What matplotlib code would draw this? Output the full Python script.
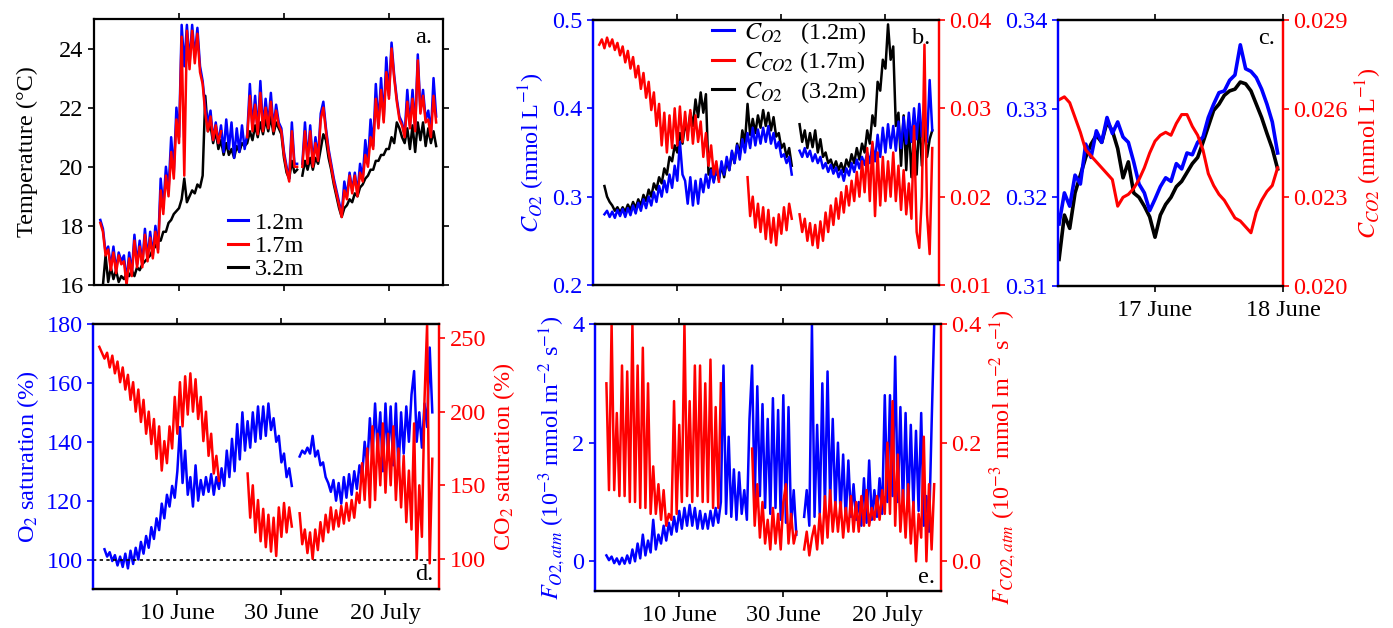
import numpy as np
import matplotlib
matplotlib.use('Agg')
import matplotlib.pyplot as plt
from matplotlib.ticker import FixedLocator, FormatStrFormatter

nan = np.nan

# long records: days since 1 June, one value every 12 h starting 26 May (day -6)
t_start, t_step = -6.0, 0.5

# rows of 10 values = 5 days; row comment gives first day of the row
temp_12 = [18.2, 17.9, 17.1, 17.3, 16.6, 17.3, 16.5, 17.1, 16.8, 17.0,   # -6
           16.1, 17.1, 16.4, 17.7, 16.7, 17.5, 16.7, 17.9, 16.9, 17.8,   # -1
           17.0, 18.0, 17.2, 19.6, 18.6, 20.0, 19.2, 21.0, 19.8, 22.0,   # 4
           21.0, 24.8, 23.4, 24.8, 23.5, 24.8, 23.7, 24.7, 23.4, 22.9,   # 9
           22.0, 21.5, 21.9, 20.9, 21.5, 20.8, 21.4, 20.5, 21.6, 20.6,   # 14
           21.5, 20.3, 21.3, 20.5, 21.4, 20.6, 21.1, 22.8, 21.3, 22.4,   # 19
           21.2, 22.9, 21.3, 22.3, 21.4, 22.5, 21.3, 22.1, 21.5, 21.3,   # 24
           20.5, 20.0, 19.6, 21.5, 20.1, 20.1, nan, 20.1, 21.5, 20.2,    # 29
           21.4, 20.1, 21.0, 20.3, 21.8, 22.2, 21.3, 20.6, 20.1, 19.6,   # 34
           19.2, 18.8, 18.4, 19.5, 19.0, 19.8, 19.2, 19.8, 19.1, 20.1,   # 39
           19.6, 20.9, 20.1, 21.6, 20.7, 22.8, 21.4, 23.0, 21.6, 23.7,   # 44
           22.4, 24.2, 23.1, 22.3, 21.7, 21.5, 21.1, 22.6, 21.4, 22.6,   # 49
           21.3, 23.8, 21.9, 22.6, 21.6, 21.9, 21.1, 23.0, 21.7]         # 54
temp_17 = [18.1, 17.8, 17.0, 17.2, 16.5, 17.1, 16.4, 17.0, 16.7, 16.8,
           16.0, 16.9, 16.3, 17.5, 16.6, 17.3, 16.6, 17.7, 16.8, 17.6,
           16.9, 17.8, 17.1, 19.2, 18.4, 19.7, 19.0, 20.5, 19.6, 21.6,
           20.8, 24.4, 19.7, 24.6, 23.3, 24.6, 23.5, 24.5, 23.2, 22.8,
           21.8, 21.2, 21.7, 20.9, 21.4, 20.8, 21.2, nan, nan, nan,
           nan, nan, nan, nan, nan, nan, 21.0, 22.4, 21.2, 22.1,
           21.1, 22.5, 21.2, 22.0, 21.3, 22.2, 21.2, 21.9, 21.4, 21.2,
           20.4, 19.9, 19.5, 21.2, 20.0, 20.0, nan, 20.0, 21.2, 20.1,
           21.2, 20.0, 20.8, 20.2, 21.6, 22.0, 21.2, 20.5, 20.0, 19.5,
           19.1, 18.7, 18.3, 19.2, 18.9, 19.7, 19.1, 19.7, 19.0, 19.8,
           19.5, 20.4, 20.0, 21.0, 20.6, 22.3, 21.3, 22.6, 21.5, 23.2,
           22.3, 24.0, 23.0, 22.2, 21.6, 21.4, 21.0, 22.2, 21.3, 22.3,
           21.2, 23.6, 21.8, 22.4, 21.5, 21.6, 21.0, 22.4, 21.5]
temp_32 = [nan, 16.0, 17.0, 16.1, 16.6, 16.2, 16.5, 16.1, 16.3, 16.2,
           16.4, 16.3, 16.5, 16.3, 16.6, 16.5, 16.7, 16.8, 16.9, 17.0,
           17.2, 17.3, 17.5, 17.5, 17.8, 17.8, 18.1, 18.2, 18.4, 18.5,
           18.6, 18.9, 19.6, 18.8, 19.0, 19.2, 19.1, 19.4, 19.3, 19.7,
           22.4, 21.2, 21.4, 20.8, 21.2, 20.6, 20.9, 20.4, 20.8, 20.4,
           20.6, 20.3, 20.7, 20.5, 20.8, 20.7, 20.8, 21.2, 20.9, 21.4,
           21.0, 21.5, 21.1, 21.6, 21.2, 21.7, 21.1, 21.5, 21.3, 21.1,
           20.3, 19.8, 19.6, 20.2, 19.8, 19.9, nan, 19.7, 20.2, 19.9,
           20.3, 19.9, 20.3, 20.1, 20.6, 21.1, 20.9, 20.3, 19.9, 19.4,
           19.0, 18.6, 18.3, 18.6, 18.7, 18.9, 18.8, 19.1, 19.0, 19.3,
           19.4, 19.6, 19.7, 19.9, 19.9, 20.2, 20.2, 20.4, 20.4, 20.6,
           20.6, 21.0, 20.8, 21.5, 21.3, 21.0, 20.8, 21.3, 20.6, 21.4,
           20.5, 21.5, 20.9, 21.5, 20.7, 21.3, 20.8, 21.2, 20.7]

# O2 concentration (mmol/L) at 1.2 m and 3.2 m, CO2 concentration at 1.7 m
o2_12 = [nan, nan, 0.280, 0.284, 0.277, 0.283, 0.276, 0.285, 0.278, 0.286,
         0.277, 0.287, 0.279, 0.290, 0.281, 0.293, 0.284, 0.297, 0.287, 0.300,
         0.290, 0.305, 0.294, 0.312, 0.300, 0.318, 0.305, 0.325, 0.310, 0.335,
         0.318, 0.362, 0.325, 0.318, 0.292, 0.322, 0.290, 0.318, 0.292, 0.320,
         0.305, 0.325, 0.310, 0.330, 0.316, 0.335, 0.318, 0.340, 0.325, 0.345,
         0.330, 0.352, 0.338, 0.358, 0.342, 0.365, 0.350, 0.372, 0.355, 0.378,
         0.358, 0.376, 0.360, 0.378, 0.362, 0.380, 0.360, 0.372, 0.355, 0.362,
         0.345, 0.348, 0.338, 0.345, 0.325, nan, nan, 0.352, 0.345, 0.355,
         0.345, 0.352, 0.340, 0.348, 0.338, 0.345, 0.332, 0.338, 0.328, 0.336,
         0.326, 0.333, 0.322, 0.330, 0.318, 0.332, 0.324, 0.338, 0.328, 0.342,
         0.332, 0.345, 0.336, 0.350, 0.338, 0.360, 0.340, 0.370, 0.345, 0.378,
         0.350, 0.382, 0.355, 0.380, 0.352, 0.385, 0.355, 0.390, 0.360, 0.395,
         0.362, 0.400, 0.365, 0.405, 0.368, 0.395, 0.362, 0.432, 0.375]
o2_32 = [nan, nan, 0.312, 0.300, 0.294, 0.290, 0.284, 0.288, 0.282, 0.288,
         0.283, 0.291, 0.285, 0.294, 0.287, 0.297, 0.290, 0.302, 0.295, 0.308,
         0.300, 0.315, 0.308, 0.322, 0.315, 0.332, 0.325, 0.345, 0.340, 0.358,
         0.350, 0.372, 0.360, 0.382, 0.372, 0.395, 0.380, 0.410, 0.390, 0.418,
         0.395, 0.416, 0.325, 0.332, 0.318, 0.330, 0.320, 0.335, 0.322, 0.340,
         0.330, 0.350, 0.338, 0.360, 0.348, 0.375, 0.360, 0.405, 0.370, 0.388,
         0.372, 0.392, 0.378, 0.398, 0.380, 0.395, 0.375, 0.390, 0.368, 0.372,
         0.355, 0.360, 0.345, 0.355, 0.335, nan, nan, 0.382, 0.362, 0.375,
         0.355, 0.372, 0.356, 0.375, 0.350, 0.365, 0.345, 0.350, 0.338, 0.342,
         0.332, 0.340, 0.330, 0.338, 0.328, 0.342, 0.334, 0.348, 0.338, 0.355,
         0.342, 0.360, 0.350, 0.375, 0.360, 0.392, 0.380, 0.430, 0.420, 0.455,
         0.445, 0.495, 0.455, 0.470, 0.380, 0.395, 0.335, 0.392, 0.330, 0.385,
         0.322, 0.372, 0.325, 0.390, 0.335, 0.385, 0.345, 0.365, 0.375]
co2_17 = [0.0372, 0.0378, 0.0368, 0.0380, 0.0370, 0.0378, 0.0366, 0.0374, 0.0360, 0.0370,
          0.0352, 0.0365, 0.0345, 0.0358, 0.0335, 0.0348, 0.0322, 0.0340, 0.0312, 0.0330,
          0.0298, 0.0318, 0.0280, 0.0305, 0.0258, 0.0295, 0.0250, 0.0292, 0.0255, 0.0300,
          0.0258, 0.0302, 0.0262, 0.0296, 0.0264, 0.0298, 0.0260, 0.0292, 0.0262, 0.0285,
          0.0245, 0.0272, 0.0235, 0.0258, 0.0225, 0.0240, 0.0217, nan, nan, nan,
          nan, nan, nan, nan, nan, nan, nan, 0.0222, 0.0178, 0.0200,
          0.0165, 0.0192, 0.0160, 0.0188, 0.0152, 0.0185, 0.0148, 0.0176, 0.0145, 0.0180,
          0.0158, 0.0188, 0.0162, 0.0192, 0.0175, nan, nan, 0.0180, 0.0160, 0.0175,
          0.0150, 0.0170, 0.0145, 0.0168, 0.0142, 0.0172, 0.0150, 0.0182, 0.0160, 0.0190,
          0.0168, 0.0198, 0.0175, 0.0205, 0.0182, 0.0212, 0.0190, 0.0218, 0.0195, 0.0228,
          0.0200, 0.0240, 0.0205, 0.0255, 0.0195, 0.0262, 0.0178, 0.0250, 0.0190, 0.0245,
          0.0195, 0.0240, 0.0200, 0.0250, 0.0195, 0.0235, 0.0185, 0.0230, 0.0180, 0.0215,
          0.0175, 0.0280, 0.0160, 0.0142, 0.0200, 0.0372, 0.0180, 0.0135, 0.0255]

# saturation (%)
o2_sat = [nan, nan, 103.5, 101.0, 102.5, 99.5, 101.5, 98.0, 101.0, 97.5,
          102.0, 97.0, 103.0, 98.5, 104.0, 100.0, 106.0, 102.0, 108.0, 104.0,
          111.0, 107.0, 114.0, 110.0, 119.0, 114.0, 122.0, 118.0, 125.0, 121.0,
          130.0, 145.0, 126.0, 137.0, 122.0, 128.0, 118.0, 132.0, 120.0, 127.0,
          122.0, 128.0, 123.0, 129.0, 122.0, 128.0, 124.0, 131.0, 125.0, 137.0,
          128.0, 141.0, 130.0, 146.0, 134.0, 150.0, 137.0, 147.0, 138.0, 150.0,
          140.0, 152.0, 141.0, 152.0, 142.0, 153.0, 144.0, 148.0, 140.0, 142.0,
          133.0, 136.0, 128.0, 131.0, 125.0, nan, nan, 135.0, 137.0, 136.0,
          138.0, 136.0, 142.0, 135.0, 137.0, 132.0, 133.0, 128.0, 126.0, 123.0,
          127.0, 120.0, 126.0, 119.0, 128.0, 121.0, 129.0, 122.0, 130.0, 124.0,
          132.0, 128.0, 140.0, 132.0, 148.0, 135.0, 153.0, 137.0, 150.0, 130.0,
          153.0, 135.0, 152.0, 132.0, 153.0, 130.0, 150.0, 136.0, 152.0, 140.0,
          156.0, 164.0, 140.0, 150.0, 138.0, 153.0, 145.0, 172.0, 150.0]
co2_sat = [244, 240, 236, 240, 230, 238, 226, 234, 220, 230,
           215, 225, 208, 220, 200, 215, 193, 208, 185, 200,
           178, 195, 168, 190, 160, 180, 165, 190, 175, 210,
           185, 220, 190, 224, 198, 226, 200, 222, 195, 210,
           180, 200, 170, 185, 158, 170, 153, nan, nan, nan,
           nan, nan, nan, nan, nan, nan, nan, 158, 128, 150,
           118, 140, 112, 134, 108, 130, 105, 128, 102, 135,
           115, 138, 118, 135, 122, nan, nan, 131, 110, 120,
           104, 118, 100, 120, 106, 125, 112, 130, 118, 135,
           120, 133, 122, 136, 124, 138, 126, 140, 128, 145,
           138, 165, 140, 175, 135, 190, 140, 185, 150, 192,
           145, 185, 150, 190, 140, 175, 135, 170, 125, 160,
           120, 192, 100, 150, 115, 208, 259, 97, 168]

# air-water fluxes (1e-3 mmol m-2 s-1)
f_o2 = [nan, nan, 0.10, 0.02, 0.08, -0.03, 0.05, -0.05, 0.06, -0.04,
        0.10, -0.03, 0.20, 0.00, 0.30, 0.05, 0.45, 0.10, 0.35, 0.15,
        0.70, 0.20, 0.45, 0.30, 0.60, 0.35, 0.65, 0.45, 0.75, 0.50,
        0.85, 0.55, 0.90, 0.60, 0.95, 0.60, 0.90, 0.55, 0.85, 0.55,
        0.80, 0.55, 0.85, 0.60, 0.90, 0.65, 1.00, 3.30, 0.80, 2.10,
        0.75, 1.55, 0.70, 1.50, 0.80, 1.20, 0.70, 2.40, 3.30, 1.00,
        2.95, 1.10, 2.65, 0.90, 2.40, 0.80, 2.75, 0.90, 2.55, 0.70,
        2.80, 0.65, 2.60, 0.60, 1.20, 0.45, nan, nan, 0.75, 1.20,
        0.60, 3.99, 0.75, 2.30, 0.80, 3.00, 0.90, 3.20, 1.00, 2.40,
        0.90, 2.00, 0.80, 1.80, 0.70, 1.70, 0.75, 1.30, 0.70, 1.00,
        0.60, 1.40, 0.65, 1.70, 0.70, 1.20, 0.75, 1.40, 0.80, 2.80,
        1.00, 2.80, 1.10, 3.45, 1.00, 2.60, 0.90, 2.50, 0.85, 2.30,
        0.90, 2.20, 0.85, 2.50, 0.60, 1.10, 0.50, 2.30, 3.99]
f_co2 = [nan, nan, 0.30, 0.12, 0.40, 0.12, 0.25, 0.11, 0.33, 0.11,
         0.32, 0.10, 0.40, 0.10, 0.33, 0.09, 0.36, 0.09, 0.30, 0.08,
         0.16, 0.08, 0.13, 0.07, 0.12, 0.06, 0.08, 0.07, 0.27, 0.08,
         0.23, 0.10, 0.40, 0.11, 0.27, 0.10, 0.33, 0.11, 0.33, 0.10,
         0.30, 0.10, 0.34, 0.09, 0.26, 0.09, 0.30, nan, nan, nan,
         nan, nan, nan, nan, nan, nan, nan, nan, 0.19, 0.06,
         0.13, 0.04, 0.10, 0.03, 0.07, 0.02, 0.09, 0.03, 0.08, 0.02,
         0.10, 0.13, 0.03, 0.08, 0.03, 0.05, nan, nan, 0.02, 0.05,
         0.01, 0.04, 0.06, 0.02, 0.08, 0.03, 0.11, 0.04, 0.12, 0.05,
         0.10, 0.05, 0.10, 0.04, 0.09, 0.05, 0.11, 0.05, 0.10, 0.05,
         0.11, 0.06, 0.12, 0.06, 0.09, 0.07, 0.11, 0.07, 0.12, 0.08,
         0.20, 0.08, 0.27, 0.06, 0.18, 0.05, 0.12, 0.04, 0.13, 0.03,
         0.10, 0.00, 0.08, 0.04, 0.21, 0.00, 0.13, 0.02, 0.13]

# zoom on 16-18 June: hours since 16 June 00:00, hourly
h_start, h_step = 6.0, 1.0
c_o2_12 = [0.3170, 0.3205, 0.3190, 0.3225, 0.3215, 0.3260, 0.3245, 0.3275, 0.3262, 0.3290,
           0.3272, 0.3285, 0.3268, 0.3262, 0.3240, 0.3215, 0.3205, 0.3185, 0.3198, 0.3212,
           0.3222, 0.3218, 0.3238, 0.3232, 0.3250, 0.3248, 0.3262, 0.3268, 0.3290, 0.3305,
           0.3318, 0.3320, 0.3332, 0.3338, 0.3372, 0.3345, 0.3342, 0.3335, 0.3322, 0.3305,
           0.3285, 0.3250]
c_o2_32 = [0.3130, 0.3180, 0.3165, 0.3205, 0.3225, 0.3245, 0.3260, 0.3270, 0.3262, 0.3285,
           0.3275, 0.3255, 0.3222, 0.3240, 0.3205, 0.3200, 0.3190, 0.3178, 0.3155, 0.3180,
           0.3192, 0.3200, 0.3212, 0.3218, 0.3228, 0.3238, 0.3245, 0.3262, 0.3280, 0.3298,
           0.3305, 0.3315, 0.3320, 0.3322, 0.3330, 0.3328, 0.3320, 0.3305, 0.3290, 0.3272,
           0.3255, 0.3232]
c_co2_17 = [0.0263, 0.0264, 0.0262, 0.0257, 0.0252, 0.0246, 0.0244, 0.0242, 0.0240, 0.0238,
            0.0236, 0.0227, 0.0230, 0.0231, 0.0233, 0.0236, 0.0240, 0.0245, 0.0249, 0.0251,
            0.0252, 0.0251, 0.0255, 0.0258, 0.0258, 0.0254, 0.0251, 0.0246, 0.0238, 0.0234,
            0.0231, 0.0229, 0.0226, 0.0223, 0.0222, 0.0220, 0.0218, 0.0225, 0.0229, 0.0232,
            0.0234, 0.0240]

date_ticks = [9, 29, 49]
date_labels = ['10 June', '30 June', '20 July']
zoom_ticks = [24, 48]
zoom_labels = ['17 June', '18 June']

BLUE = '#0000ff'
RED = '#ff0000'
FS = 17.5
LW = 1.8

plt.rcParams['font.family'] = ['Liberation Serif', 'DejaVu Sans']
plt.rcParams['mathtext.fontset'] = 'stix'
plt.rcParams['font.size'] = FS

h = h_start + h_step * np.arange(len(c_o2_12))


def days(n):
    return t_start + t_step * np.arange(n)


def frame(ax, left='k', right='k', ticks=date_ticks, labels=None, xlim=(-7.2, 59.3)):
    for s in ax.spines.values():
        s.set_linewidth(1.6)
    ax.spines['left'].set_color(left)
    ax.spines['right'].set_color(right)
    ax.set_xlim(*xlim)
    ax.xaxis.set_major_locator(FixedLocator(ticks))
    if labels is None:
        ax.set_xticklabels([])
    else:
        ax.set_xticklabels(labels)
    ax.tick_params(axis='x', top=True, direction='out', length=4, width=1.2, pad=6)
    ax.tick_params(axis='y', colors=left, direction='out', length=4, width=1.2)


def right_axis(ax2, ylim, ticks, fmt=None):
    ax2.set_ylim(*ylim)
    ax2.set_yticks(ticks)
    if fmt:
        ax2.yaxis.set_major_formatter(FormatStrFormatter(fmt))
    ax2.tick_params(axis='y', colors=RED, direction='out', length=4, width=1.2)
    for s in ax2.spines.values():
        s.set_linewidth(1.6)
    ax2.spines['right'].set_color(RED)
    ax2.spines['left'].set_color(BLUE)


fig = plt.figure(figsize=(13.93, 6.28), dpi=100)

# ---- a. temperature
ax_a = fig.add_axes([0.0675, 0.5462, 0.2505, 0.4236])
ax_a.plot(days(len(temp_32)), temp_32, color='k', lw=LW)
ax_a.plot(days(len(temp_12)), temp_12, color=BLUE, lw=LW)
ax_a.plot(days(len(temp_17)), temp_17, color=RED, lw=LW)
frame(ax_a)
ax_a.tick_params(axis='y', right=True)
ax_a.set_ylim(16, 25)
ax_a.set_yticks([16, 18, 20, 22, 24])
ax_a.set_ylabel('Temperature (°C)', labelpad=15)
hl = [plt.Line2D([], [], color=c, lw=2.2) for c in (BLUE, RED, 'k')]
ax_a.legend(hl, ['1.2m', '1.7m', '3.2m'], loc='upper left', bbox_to_anchor=(0.385, 0.275),
            frameon=False, handlelength=0.8, handletextpad=0.3, labelspacing=0.05,
            borderpad=0, borderaxespad=0)
ax_a.text(0.968, 0.93, 'a.', transform=ax_a.transAxes, ha='right', va='center')

# ---- b. O2 / CO2 concentration
ax_b = fig.add_axes([0.4257, 0.5462, 0.2484, 0.4220])
ax_b.plot(days(len(o2_32)), o2_32, color='k', lw=LW)
ax_b.plot(days(len(o2_12)), o2_12, color=BLUE, lw=LW)
ax_b.set_ylim(0.2, 0.5)
ax_b.set_yticks([0.2, 0.3, 0.4, 0.5])
ax_b.yaxis.set_major_formatter(FormatStrFormatter('%.1f'))
ax_b.set_ylabel(r'$C_{O2}$ (mmol L$^{-1}$)', color=BLUE, labelpad=4)
frame(ax_b, left=BLUE, right=RED)
ax_b2 = ax_b.twinx()
ax_b2.plot(days(len(co2_17)), co2_17, color=RED, lw=LW)
right_axis(ax_b2, (0.01, 0.04), [0.01, 0.02, 0.03, 0.04], '%.2f')
hb = [plt.Line2D([], [], color=c, lw=2.2) for c in (BLUE, RED, 'k')]
ax_b2.legend(hb, [r'$C_{O2}$   (1.2m)', r'$C_{CO2}$ (1.7m)', r'$C_{O2}$   (3.2m)'],
             loc='upper left', bbox_to_anchor=(0.345, 1.0), frameon=False,
             handlelength=0.9, handletextpad=0.4, labelspacing=0.14,
             borderpad=0, borderaxespad=0)
ax_b2.text(0.975, 0.93, 'b.', transform=ax_b2.transAxes, ha='right', va='center')

# ---- c. zoom 16-18 June
ax_c = fig.add_axes([0.7595, 0.5446, 0.1615, 0.4236])
ax_c.plot(h, c_o2_32, color='k', lw=2.6)
ax_c.plot(h, c_o2_12, color=BLUE, lw=2.6)
ax_c.set_ylim(0.31, 0.34)
ax_c.set_yticks([0.31, 0.32, 0.33, 0.34])
ax_c.yaxis.set_major_formatter(FormatStrFormatter('%.2f'))
frame(ax_c, left=BLUE, right=RED, ticks=zoom_ticks, labels=zoom_labels, xlim=(5.8, 48))
ax_c2 = ax_c.twinx()
ax_c2.plot(h, c_co2_17, color=RED, lw=2.2)
right_axis(ax_c2, (0.020, 0.029), [0.020, 0.023, 0.026, 0.029], '%.3f')
ax_c2.set_ylabel(r'$C_{CO2}$ (mmol L$^{-1}$)', color=RED, labelpad=4)
ax_c2.text(0.964, 0.93, 'c.', transform=ax_c2.transAxes, ha='right', va='center')

# ---- d. saturation
ax_d = fig.add_axes([0.0668, 0.0621, 0.2484, 0.4220])
ax_d.plot(days(len(o2_sat)), o2_sat, color=BLUE, lw=LW)
ax_d.axhline(100, color='k', lw=1.2, ls=(0, (2, 2)))
ax_d.set_ylim(90, 180)
ax_d.set_yticks([100, 120, 140, 160, 180])
ax_d.set_ylabel(r'O$_2$ saturation (%)', color=BLUE, labelpad=4)
frame(ax_d, left=BLUE, right=RED, labels=date_labels)
ax_d2 = ax_d.twinx()
ax_d2.plot(days(len(co2_sat)), co2_sat, color=RED, lw=LW)
right_axis(ax_d2, (79.6, 259.5), [100, 150, 200, 250])
ax_d2.set_ylabel(r'CO$_2$ saturation (%)', color=RED, labelpad=4)
ax_d2.text(0.983, 0.053, 'd.', transform=ax_d2.transAxes, ha='right', va='center')

# ---- e. fluxes
ax_e = fig.add_axes([0.4271, 0.0589, 0.2484, 0.4252])
ax_e.plot(days(len(f_o2)), f_o2, color=BLUE, lw=LW)
ax_e.set_ylim(-0.5, 4)
ax_e.set_yticks([0, 2, 4])
ax_e.set_ylabel(r'$F_{O2,atm}$ (10$^{-3}$ mmol m$^{-2}$ s$^{-1}$)', color=BLUE, labelpad=4)
frame(ax_e, left=BLUE, right=RED, labels=date_labels)
ax_e2 = ax_e.twinx()
ax_e2.plot(days(len(f_co2)), f_co2, color=RED, lw=LW)
right_axis(ax_e2, (-0.05, 0.4), [0.0, 0.2, 0.4], '%.1f')
ax_e2.set_ylabel(r'$F_{CO2,atm}$ (10$^{-3}$ mmol m$^{-2}$ s$^{-1}$)', color=RED, labelpad=4)
ax_e2.text(0.983, 0.052, 'e.', transform=ax_e2.transAxes, ha='right', va='center')

fig.savefig('out.png', dpi=100)
